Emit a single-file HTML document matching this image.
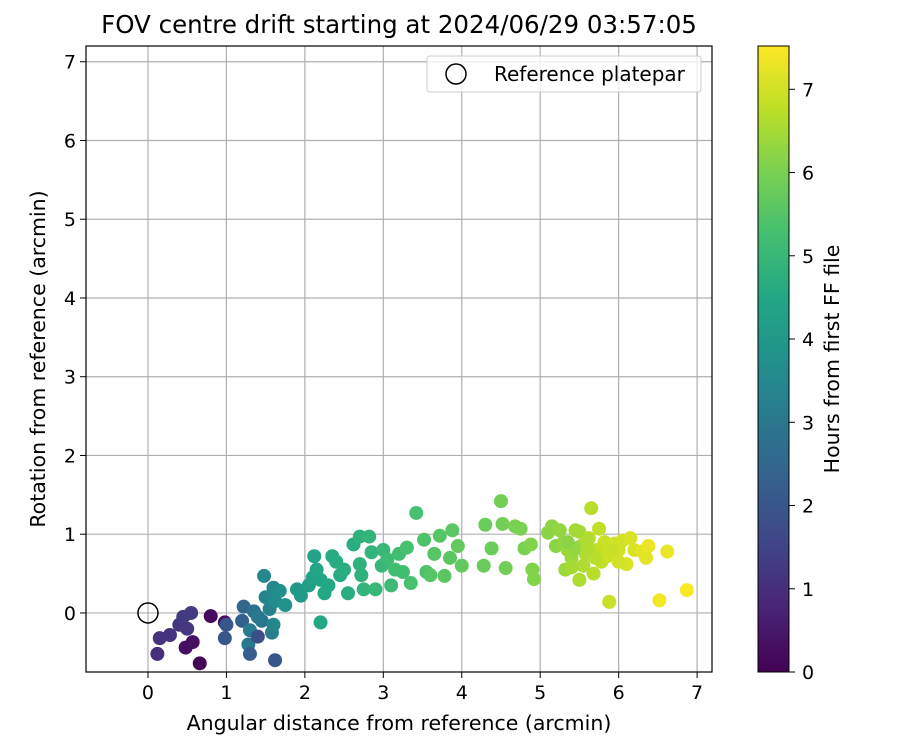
<!DOCTYPE html>
<html><head><meta charset="utf-8"><style>body{margin:0;background:#fff}svg{display:block;font-family:"DejaVu Sans","Liberation Sans",sans-serif}</style></head>
<body>
<svg id="chart" width="900" height="750" xmlns="http://www.w3.org/2000/svg">
<defs><linearGradient id="vir" x1="0" y1="1" x2="0" y2="0">
<stop offset="0" stop-color="#440154"/><stop offset="0.1" stop-color="#482475"/><stop offset="0.2" stop-color="#414487"/><stop offset="0.3" stop-color="#355f8d"/><stop offset="0.4" stop-color="#2a788e"/><stop offset="0.5" stop-color="#21918c"/><stop offset="0.6" stop-color="#22a884"/><stop offset="0.7" stop-color="#44bf70"/><stop offset="0.8" stop-color="#7ad151"/><stop offset="0.9" stop-color="#bddf26"/><stop offset="1" stop-color="#fde725"/></linearGradient>
<clipPath id="clip"><rect x="86" y="46" width="626" height="626"/></clipPath></defs>
<text x="399" y="33" font-size="24.5" text-anchor="middle">FOV centre drift starting at 2024/06/29 03:57:05</text>
<g id="grid"></g>
<g id="points" clip-path="url(#clip)"></g>
<rect x="86" y="46" width="626" height="626" fill="none" stroke="#000" stroke-width="1.2"/>
<g id="ticks"></g>
<text x="399" y="730" font-size="20.5" text-anchor="middle">Angular distance from reference (arcmin)</text>
<text transform="translate(45,359) rotate(-90)" font-size="20.5" text-anchor="middle">Rotation from reference (arcmin)</text>
<g>
<rect x="427" y="56" width="274" height="36" rx="3" fill="#fff" fill-opacity="0.8" stroke="#ccc"/>
<circle cx="456" cy="74" r="10" fill="none" stroke="#000" stroke-width="1.5"/>
<text x="494" y="81" font-size="20">Reference platepar</text>
</g>
<rect x="758" y="46" width="31" height="626" fill="url(#vir)" stroke="#000" stroke-width="1"/>
<g id="cbticks"></g>
<text transform="translate(839,359) rotate(-90)" font-size="20.5" text-anchor="middle">Hours from first FF file</text>
</svg>
<script>
const xTicks=[0,1,2,3,4,5,6,7];
const yTicks=[0,1,2,3,4,5,6,7];
const cbTicks=[0,1,2,3,4,5,6,7];
const xVals=[0.12,0.15,0.28,0.4,0.45,0.5,0.55,0.48,0.57,0.66,0.8,0.98,0.98,1.0,1.22,1.2,1.3,1.28,1.3,1.35,1.4,1.45,1.48,1.5,1.55,1.58,1.6,1.62,1.62,1.68,1.75,1.6,1.4,1.9,1.95,2.05,2.1,2.12,2.15,2.2,2.2,2.25,2.3,2.35,2.4,2.45,2.5,2.55,2.62,2.7,2.7,2.72,2.75,2.82,2.85,2.9,2.98,3.0,3.05,3.1,3.15,3.2,3.25,3.3,3.35,3.42,3.52,3.55,3.6,3.65,3.72,3.78,3.85,3.88,3.95,4.0,4.28,4.3,4.38,4.5,4.52,4.56,4.68,4.75,4.8,4.88,4.9,4.92,5.1,5.15,5.2,5.25,5.3,5.32,5.35,5.4,5.45,5.5,5.52,5.55,5.5,5.58,5.62,5.65,5.68,5.72,5.75,5.78,5.82,5.85,5.88,5.95,6.0,6.05,6.1,6.15,6.2,6.3,6.35,6.38,6.52,6.62,6.87,5.4,5.6,5.7,5.9,6.0,5.45,5.35,5.6];
const yVals=[-0.52,-0.32,-0.28,-0.15,-0.05,-0.2,0.0,-0.44,-0.37,-0.64,-0.04,-0.12,-0.32,-0.15,0.08,-0.1,-0.22,-0.4,-0.52,0.02,-0.3,-0.1,0.47,0.2,0.05,-0.25,0.32,0.15,-0.6,0.28,0.1,-0.15,-0.05,0.3,0.22,0.35,0.45,0.72,0.55,0.42,-0.12,0.25,0.35,0.72,0.65,0.48,0.55,0.25,0.87,0.97,0.62,0.48,0.3,0.97,0.77,0.3,0.6,0.8,0.68,0.35,0.55,0.75,0.52,0.83,0.38,1.27,0.93,0.52,0.48,0.75,0.98,0.47,0.7,1.05,0.85,0.6,0.6,1.12,0.82,1.42,1.13,0.57,1.1,1.07,0.82,0.87,0.55,0.43,1.02,1.1,0.85,1.05,0.9,0.55,0.8,0.7,1.05,1.03,0.85,0.6,0.42,0.75,0.95,1.33,0.5,0.8,1.07,0.65,0.9,0.72,0.14,0.88,0.8,0.92,0.62,0.95,0.8,0.78,0.7,0.85,0.16,0.78,0.29,0.58,0.92,0.7,0.8,0.65,0.82,0.9,0.82];
const hours=[1.0,1.1,1.1,1.2,1.3,1.2,1.3,0.3,0.3,0.1,0.2,0.3,2.0,2.0,2.5,2.3,3.1,3.0,2.2,2.8,1.8,2.9,3.5,3.4,3.3,3.2,3.5,3.6,2.0,3.7,3.8,3.4,3.0,4.0,4.1,4.2,4.3,4.3,4.4,4.4,4.5,4.5,4.5,4.6,4.6,4.6,4.7,4.7,4.7,4.8,4.8,4.8,4.9,4.9,4.9,5.0,5.0,5.0,5.1,5.1,5.2,5.2,5.2,5.3,5.3,5.3,5.4,5.4,5.5,5.5,5.5,5.6,5.6,5.6,5.7,5.7,5.8,5.8,5.8,5.9,5.9,5.9,6.0,6.0,6.0,6.1,6.1,6.1,6.2,6.2,6.2,6.3,6.3,6.4,6.4,6.4,6.5,6.5,6.5,6.6,6.6,6.6,6.7,6.7,6.7,6.8,6.8,6.8,6.9,6.9,6.9,7.0,7.0,7.0,7.1,7.1,7.1,7.2,7.2,7.3,7.4,7.3,7.5,6.5,6.6,6.7,6.9,7.0,6.3,6.2,6.6];
const refPoint=[0,0];
const X0=-0.79,X1=7.19,Y0=-0.75,Y1=7.2,HMAX=7.52;
const sx=v=>86+(v-X0)/(X1-X0)*626;
const sy=v=>672-(v-Y0)/(Y1-Y0)*626;
const sc=v=>672-v/HMAX*626;
const stops=["#440154","#482475","#414487","#355f8d","#2a788e","#21918c","#22a884","#44bf70","#7ad151","#bddf26","#fde725"];
function hex(h){return [1,3,5].map(i=>parseInt(h.substr(i,2),16));}
function vir(t){t=Math.max(0,Math.min(1,t))*10;const i=Math.min(9,Math.floor(t)),f=t-i;const a=hex(stops[i]),b=hex(stops[i+1]);return "rgb("+a.map((c,k)=>Math.round(c+(b[k]-c)*f)).join(",")+")";}
const NS="http://www.w3.org/2000/svg";
function mk(tag,attrs,parent,txt){const e=document.createElementNS(NS,tag);for(const k in attrs)e.setAttribute(k,attrs[k]);if(txt!==undefined)e.textContent=txt;parent.appendChild(e);return e;}
const G=document.getElementById("grid"),P=document.getElementById("points"),T=document.getElementById("ticks"),C=document.getElementById("cbticks");
xTicks.forEach(v=>{const x=sx(v);
const l=mk("line",{x1:x,x2:x,y1:46,y2:672,stroke:"#b0b0b0","stroke-width":1.2},G);


mk("line",{x1:x,x2:x,y1:672,y2:678,stroke:"#000"},T);
const t=mk("text",{x:x,y:699,"font-size":19,"text-anchor":"middle"},T,String(v));

});
yTicks.forEach(v=>{const y=sy(v);
const l=mk("line",{x1:86,x2:712,y1:y,y2:y,stroke:"#b0b0b0","stroke-width":1.2},G);


mk("line",{x1:80,x2:86,y1:y,y2:y,stroke:"#000"},T);
const t=mk("text",{x:76,y:y+7,"font-size":19,"text-anchor":"end"},T,String(v));

});
cbTicks.forEach(v=>{const y=sc(v);
mk("line",{x1:789,x2:795,y1:y,y2:y,stroke:"#000"},C);
const t=mk("text",{x:802,y:y+7,"font-size":19},C,String(v));

});
xVals.forEach((v,i)=>{const c=mk("circle",{cx:sx(v),cy:sy(yVals[i]),r:7,fill:vir(hours[i]/HMAX)},P);

});
const r=mk("circle",{cx:sx(refPoint[0]),cy:sy(refPoint[1]),r:10,fill:"none",stroke:"#000","stroke-width":1.5},P);


</script>
</body></html>
